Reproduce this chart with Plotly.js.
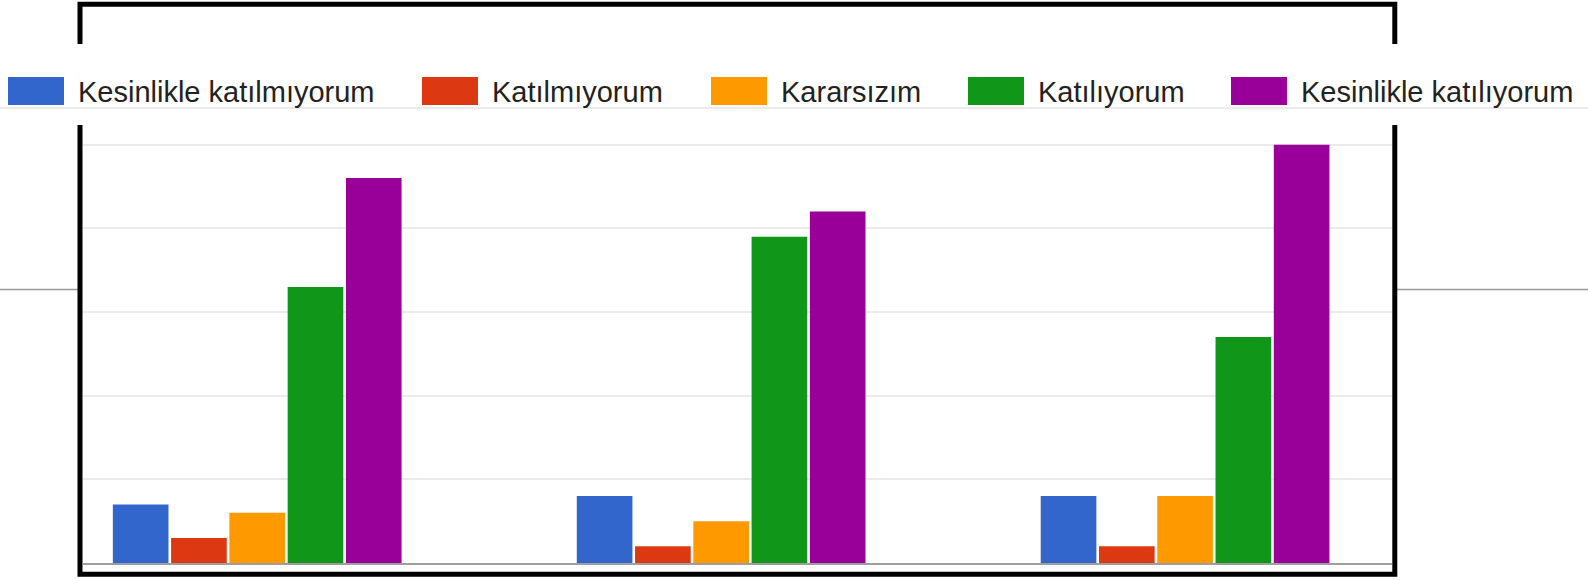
<!DOCTYPE html>
<html>
<head>
<meta charset="utf-8">
<script src="https://cdn.plot.ly/plotly-3.0.1.min.js"></script>
<style>
  html, body { margin: 0; padding: 0; background: #ffffff; }
  #chart { width: 1588px; height: 580px; }
</style>
</head>
<body>
<div id="chart"></div>
<script>
// ---- data ----
const categories = ["Soru 1", "Soru 2", "Soru 3"];
const seriesNames = ["Kesinlikle katılmıyorum", "Katılmıyorum", "Kararsızım", "Katılıyorum", "Kesinlikle katılıyorum"];
const kesinlikleKatilmiyorum = [7, 8, 8];
const katilmiyorum = [3, 2, 2];
const kararsizim = [6, 5, 8];
const katiliyorum = [33, 39, 27];
const kesinlikleKatiliyorum = [46, 42, 50];

// ---- styles / layout config ----
const colors = ["#3366cc", "#dc3912", "#ff9900", "#109618", "#990099"];
const W = 1588, H = 580;
const M = { l: 83, r: 196, t: 130, b: 17 };
const PW = W - M.l - M.r, PH = H - M.t - M.b;
const px = v => (v - M.l) / PW;          // pixel x -> paper x
const py = v => (H - M.b - v) / PH;      // pixel y -> paper y
const legendSwatchX = [8, 422, 711, 968, 1231];

const allSeries = [kesinlikleKatilmiyorum, katilmiyorum, kararsizim, katiliyorum, kesinlikleKatiliyorum];
const traces = allSeries.map((vals, i) => ({
  type: "bar",
  name: seriesNames[i],
  x: categories,
  y: vals,
  marker: { color: colors[i] },
  hoverinfo: "none"
}));

const shapes = [];
const annotations = [];

// legend divider line
shapes.push({ type: "line", xref: "paper", yref: "paper", x0: px(0), x1: px(1588), y0: py(108), y1: py(108),
  line: { color: "#ebebeb", width: 2 }, layer: "below" });
// gray page line outside frame
shapes.push({ type: "line", xref: "paper", yref: "paper", x0: px(0), x1: px(78), y0: py(289.5), y1: py(289.5),
  line: { color: "#9a9a9a", width: 1.3 } });
shapes.push({ type: "line", xref: "paper", yref: "paper", x0: px(1396), x1: px(1588), y0: py(289.5), y1: py(289.5),
  line: { color: "#9a9a9a", width: 1.3 } });

// legend
seriesNames.forEach((n, i) => {
  const x0 = legendSwatchX[i];
  shapes.push({ type: "rect", xref: "paper", yref: "paper", x0: px(x0), x1: px(x0 + 56), y0: py(105), y1: py(77),
    fillcolor: colors[i], line: { width: 0 } });
  annotations.push({ xref: "paper", yref: "paper", x: px(x0 + 68), y: py(92), xanchor: "left", yanchor: "middle",
    text: n, showarrow: false, font: { family: "Liberation Sans, Arial, sans-serif", size: 29, color: "#222222" } });
});

// black frame (with gap for the legend)
const fp = (pts) => "M" + pts.map(p => px(p[0]) + "," + py(p[1])).join("L");
shapes.push({ type: "path", xref: "paper", yref: "paper",
  path: fp([[80, 44], [80, 4.2], [1394.8, 4.2], [1394.8, 44]]), line: { color: "#000000", width: 5 } });
shapes.push({ type: "path", xref: "paper", yref: "paper",
  path: fp([[80, 125], [80, 574.3], [1394.8, 574.3], [1394.8, 125]]), line: { color: "#000000", width: 5 } });

const layout = {
  width: W, height: H,
  margin: M,
  paper_bgcolor: "#ffffff",
  plot_bgcolor: "#ffffff",
  showlegend: false,
  barmode: "group",
  bargap: 0.372,
  bargroupgap: 0.045,
  xaxis: {
    type: "category",
    range: [-0.3755, 2.446],
    showticklabels: false,
    ticks: "",
    showgrid: false,
    zeroline: false,
    showline: true,
    linecolor: "#9e9e9e",
    linewidth: 2
  },
  yaxis: {
    range: [0, 51.75],
    dtick: 10,
    showticklabels: false,
    ticks: "",
    showgrid: true,
    gridcolor: "#ebebeb",
    gridwidth: 2,
    zeroline: false,
    showline: false
  },
  shapes: shapes,
  annotations: annotations
};

Plotly.newPlot("chart", traces, layout, { displayModeBar: false, staticPlot: true });
</script>
</body>
</html>
